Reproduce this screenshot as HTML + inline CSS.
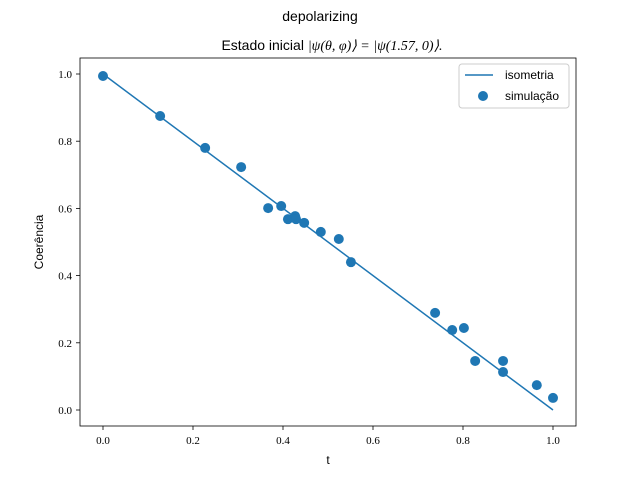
<!DOCTYPE html>
<html><head><meta charset="utf-8"><style>
body{margin:0;background:#fff;}
svg{display:block;font-family:"Liberation Sans",sans-serif;}
</style></head><body>
<svg id="chart" width="640" height="480">
<rect width="640" height="480" fill="#fff"/>
<text x="320" y="21" text-anchor="middle" font-size="14">depolarizing</text>
<text x="332" y="50" text-anchor="middle" font-size="14">Estado inicial <tspan font-family="Liberation Serif" font-style="italic">|ψ(θ, φ)⟩ = |ψ(1.57, 0)⟩.</tspan></text>
<rect x="80" y="58" width="496" height="368" fill="none" stroke="#000" stroke-width="0.8"/>
<g id="xticks"></g><g id="yticks"></g>
<text x="328" y="464" text-anchor="middle" font-size="12">t</text>
<text transform="translate(43,242) rotate(-90)" text-anchor="middle" font-size="12">Coerência</text>
<g id="marks"></g>
<g>
<rect x="459" y="64" width="110" height="44" fill="#fff" stroke="#ccc" rx="3"/>
<line x1="465" y1="75" x2="493" y2="75" stroke="#1f77b4" stroke-width="1.5"/>
<text x="505" y="79" font-size="12">isometria</text>
<circle cx="483" cy="96" r="5" fill="#1f77b4"/>
<text x="505" y="100" font-size="12">simulação</text>
</g>
</svg>
<script>
const lineT=[0,1];
const lineY=[1,0];
const simT=[0,0.127,0.227,0.307,0.367,0.396,0.411,0.427,0.429,0.447,0.484,0.524,0.551,0.738,0.776,0.802,0.827,0.889,0.889,0.964,1.0];
const simY=[0.994,0.875,0.78,0.723,0.601,0.607,0.568,0.577,0.568,0.557,0.530,0.509,0.440,0.289,0.238,0.244,0.146,0.146,0.113,0.074,0.036];
const xTickVals=[0,0.2,0.4,0.6,0.8,1.0];
const xTickLabels=["0.0","0.2","0.4","0.6","0.8","1.0"];
const yTickVals=[0,0.2,0.4,0.6,0.8,1.0];
const yTickLabels=["0.0","0.2","0.4","0.6","0.8","1.0"];
const NS="http://www.w3.org/2000/svg";
const X=t=>103+t*450, Y=v=>410-v*336;
function mk(tag,attrs,parent){const e=document.createElementNS(NS,tag);for(const k in attrs)e.setAttribute(k,attrs[k]);parent.appendChild(e);return e;}
const xt=document.getElementById('xticks'),yt=document.getElementById('yticks'),m=document.getElementById('marks');
xTickVals.forEach((v,i)=>{
 const l=mk('line',{x1:X(v),x2:X(v),y1:426,y2:430,stroke:'#000','stroke-width':0.8},xt);
 
 
 const t=mk('text',{x:X(v),y:444,'text-anchor':'middle','font-size':11,'font-family':'Liberation Serif'},xt);
 t.textContent=xTickLabels[i];
 
 
});
yTickVals.forEach((v,i)=>{
 const l=mk('line',{x1:76,x2:80,y1:Y(v),y2:Y(v),stroke:'#000','stroke-width':0.8},yt);
 
 
 const t=mk('text',{x:72,y:Y(v)+4,'text-anchor':'end','font-size':11,'font-family':'Liberation Serif'},yt);
 t.textContent=yTickLabels[i];
 
 
});
const pl=mk('polyline',{points:lineT.map((t,i)=>X(t)+','+Y(lineY[i])).join(' '),fill:'none',stroke:'#1f77b4','stroke-width':1.5},m);


simT.forEach((t,i)=>{
 const c=mk('circle',{cx:X(t),cy:Y(simY[i]),r:5,fill:'#1f77b4'},m);
 
 
});
</script>
</body></html>
